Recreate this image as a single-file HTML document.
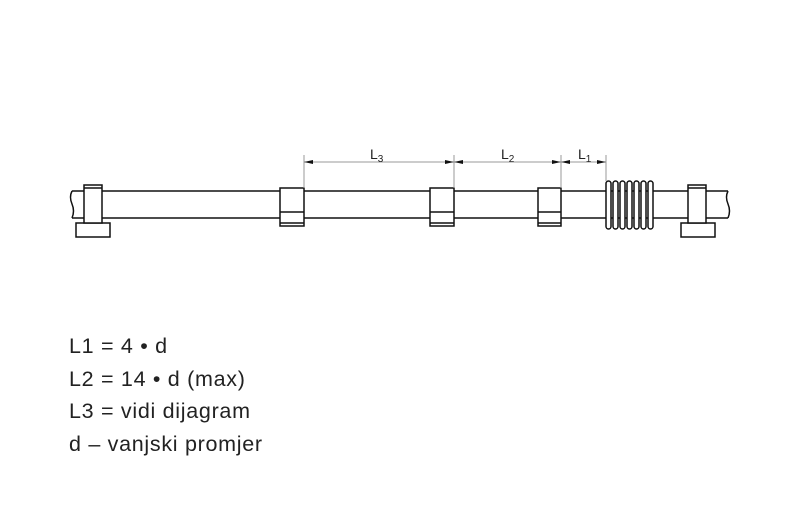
<!DOCTYPE html>
<html><head><meta charset="utf-8"><style>
html,body{margin:0;padding:0;background:#fff;}
svg{display:block}
text{font-family:"Liberation Sans",sans-serif;fill:#222}
</style></head><body>
<svg width="800" height="530" viewBox="0 0 800 530">
<g stroke="#111" stroke-width="1.5" fill="#fff">
<line x1="72" y1="191" x2="728" y2="191"/>
<line x1="72" y1="218" x2="728" y2="218"/>
<path d="M72 191 q-3 6 0 13 q3 7 0 14" fill="none"/>
<path d="M728 191 q-3 6 0 13 q3 7 0 14" fill="none"/>
<rect x="76" y="223" width="34" height="14"/>
<rect x="84" y="185" width="18" height="38"/>
<line x1="84" y1="188" x2="102" y2="188"/>
<rect x="681" y="223" width="34" height="14"/>
<rect x="688" y="185" width="18" height="38"/>
<line x1="688" y1="188" x2="706" y2="188"/>
<rect x="280" y="188" width="24" height="38"/>
<line x1="280" y1="212" x2="304" y2="212"/><line x1="280" y1="223" x2="304" y2="223"/>
<rect x="430" y="188" width="24" height="38"/>
<line x1="430" y1="212" x2="454" y2="212"/><line x1="430" y1="223" x2="454" y2="223"/>
<rect x="538" y="188" width="23" height="38"/>
<line x1="538" y1="212" x2="561" y2="212"/><line x1="538" y1="223" x2="561" y2="223"/>
<rect x="606" y="181" width="5" height="48" rx="2.5"/>
<rect x="613" y="181" width="5" height="48" rx="2.5"/>
<rect x="620" y="181" width="5" height="48" rx="2.5"/>
<rect x="627" y="181" width="5" height="48" rx="2.5"/>
<rect x="634" y="181" width="5" height="48" rx="2.5"/>
<rect x="641" y="181" width="5" height="48" rx="2.5"/>
<rect x="648" y="181" width="5" height="48" rx="2.5"/>
</g>
<g stroke="#999" stroke-width="1" fill="none">
<line x1="304" y1="155" x2="304" y2="188"/>
<line x1="454" y1="155" x2="454" y2="188"/>
<line x1="561" y1="155" x2="561" y2="188"/>
<line x1="606" y1="155" x2="606" y2="181"/>
<line x1="304" y1="162" x2="606" y2="162"/>
</g>
<g fill="#111">
<path d="M304 162 l9 -2 v4z"/><path d="M454 162 l-9 -2 v4z"/>
<path d="M454 162 l9 -2 v4z"/><path d="M561 162 l-9 -2 v4z"/>
<path d="M561 162 l9 -2 v4z"/><path d="M606 162 l-9 -2 v4z"/>
</g>
<g font-size="14">
<text x="370" y="159">L<tspan font-size="10" dy="3">3</tspan></text>
<text x="501" y="159">L<tspan font-size="10" dy="3">2</tspan></text>
<text x="578" y="159">L<tspan font-size="10" dy="3">1</tspan></text>
</g>
<g font-size="21.5" letter-spacing="0.7">
<text x="69" y="353">L1 = 4 • d</text>
<text x="69" y="386">L2 = 14 • d (max)</text>
<text x="69" y="418">L3 = vidi dijagram</text>
<text x="69" y="451">d – vanjski promjer</text>
</g>
</svg>
</body></html>
